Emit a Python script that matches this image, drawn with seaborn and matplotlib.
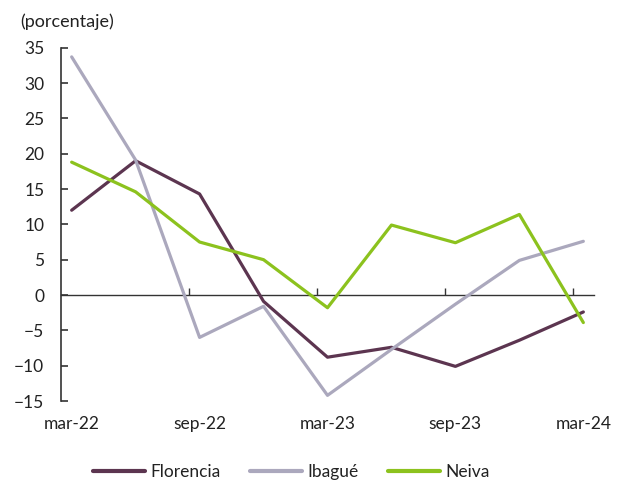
import matplotlib
matplotlib.use("Agg")
import matplotlib.pyplot as plt
import seaborn as sns
import pandas as pd

# Quarterly observations, March 2022 to March 2024
quarters = ["mar-22", "jun-22", "sep-22", "dic-22", "mar-23",
            "jun-23", "sep-23", "dic-23", "mar-24"]
months = [0, 3, 6, 9, 12, 15, 18, 21, 24]

florencia = [12.0, 19.0, 14.3, -0.9, -8.8, -7.4, -10.1, -6.4, -2.4]
ibague = [33.7, 19.1, -6.0, -1.6, -14.2, -7.7, -1.3, 4.9, 7.6]
neiva = [18.8, 14.6, 7.5, 5.0, -1.8, 9.9, 7.4, 11.4, -3.9]

series_names = ["Florencia", "Ibagué", "Neiva"]
colors = ["#5C3550", "#ABA8BD", "#8CC21E"]

tick_labels = ["mar-22", "sep-22", "mar-23", "sep-23", "mar-24"]
tick_months = [0, 6, 12, 18, 24]
boundary_ticks = [5.5, 11.5, 17.5, 23.5]

df = pd.DataFrame({
    "mes": months * 3,
    "valor": florencia + ibague + neiva,
    "ciudad": [n for n in series_names for _ in months],
})

sns.set_style("white")
plt.rcParams["font.family"] = ["Lato", "DejaVu Sans"]
text_color = "#222222"

fig = plt.figure(figsize=(6.22, 4.83), dpi=100)
ax = fig.add_axes([61 / 622, 1 - 401 / 483, (594 - 61) / 622, (401 - 47.7) / 483])

sns.lineplot(data=df, x="mes", y="valor", hue="ciudad", hue_order=series_names,
             palette=colors, linewidth=2.3, ax=ax, legend=False)

ax.set_xlim(-0.5, 24.5)
ax.set_ylim(-15, 35)
ax.set_yticks(range(-15, 36, 5))
ax.set_xticks(tick_months)
ax.set_xticklabels(tick_labels)
ax.set_xlabel("")
ax.set_ylabel("")

for side in ["top", "right", "bottom"]:
    ax.spines[side].set_visible(False)
ax.spines["left"].set_color("#333333")
ax.spines["left"].set_linewidth(1.2)

ax.tick_params(axis="y", left=True, direction="in", length=5, width=1.2, color="#333333",
               pad=12, labelsize=12.5, labelcolor=text_color)
ax.tick_params(axis="x", length=0, pad=11, labelsize=12.5, labelcolor=text_color)

# Zero line with its own ticks between semesters
zero_axis = ax.secondary_xaxis(0.3)
zero_axis.spines["bottom"].set_color("#333333")
zero_axis.spines["bottom"].set_linewidth(1.0)
zero_axis.set_xticks(boundary_ticks)
zero_axis.set_xticklabels([])
zero_axis.tick_params(axis="x", bottom=True, direction="in", length=5, width=1.0,
                      color="#333333")

fig.text(20 / 622, 1 - 22 / 483, "(porcentaje)", fontsize=13, color=text_color,
         ha="left", va="center")

handles = [plt.Line2D([], [], color=c, linewidth=3) for c in colors]
fig.legend(handles, series_names, loc="center", bbox_to_anchor=(291 / 622, 1 - 472 / 483),
           ncol=3, frameon=False, fontsize=12.5, handlelength=3.0, handletextpad=0.3,
           columnspacing=1.7, labelcolor=text_color)

fig.savefig("out.png", dpi=100)
